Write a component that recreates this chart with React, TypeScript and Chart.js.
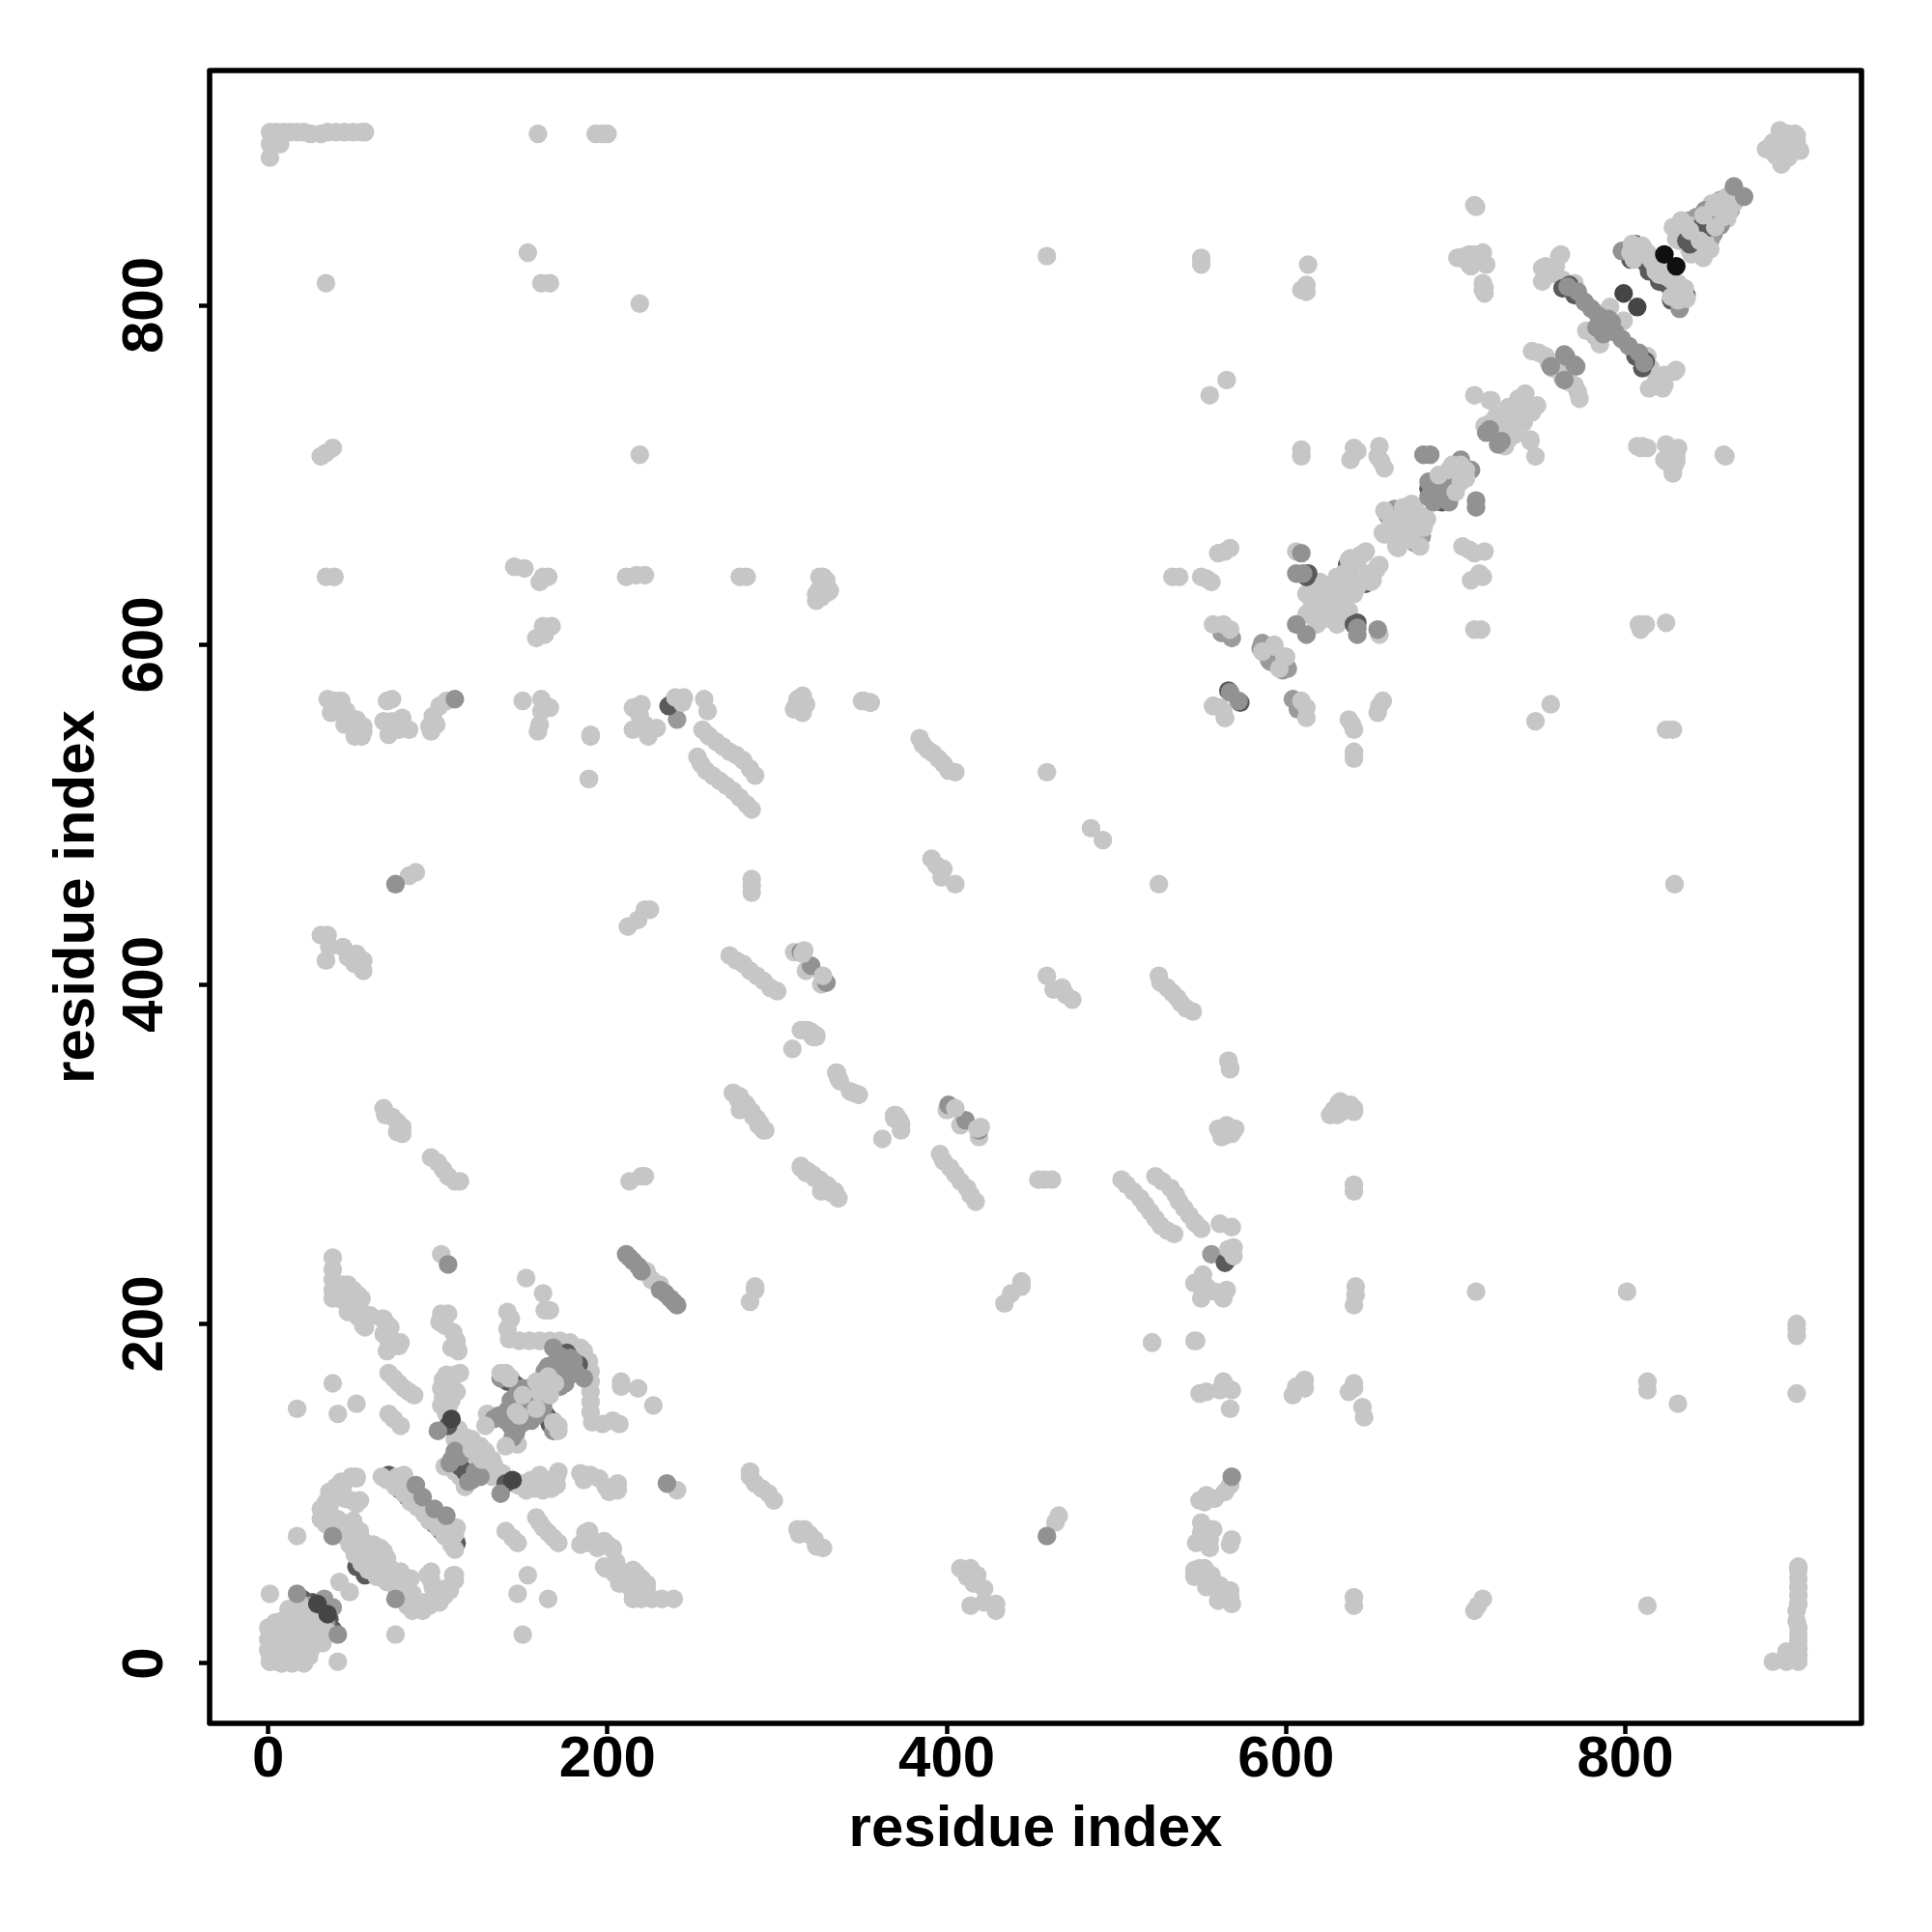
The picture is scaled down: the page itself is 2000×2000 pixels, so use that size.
import React, { useEffect, useRef } from "react";
import { Chart, registerables } from "chart.js";

Chart.register(...registerables);

type Pair = [number, number];

const tickValues = [0, 200, 400, 600, 800];
const axisTitle = "residue index";

const nearBlackContacts: Pair[] = [[823, 830]];

const veryDarkContacts: Pair[] = [[799, 807], [29, 35], [108, 144]];

const lightTopContacts: Pair[] = [
  [690, 700], [698, 706], [703, 706], [696, 703], [700, 705], [813, 831], [815, 827], [817, 824],
  [818, 820], [821, 827], [803, 831], [810, 835], [804, 836], [805, 827], [142, 168], [137, 171],
  [158, 166], [165, 169], [150, 158], [146, 148], [160, 160], [50, 68], [53, 63], [55, 59], [48, 70],
  [51, 64], [56, 62], [315, 418], [327, 405], [316, 420], [593, 600], [586, 596], [557, 612],
  [563, 612], [567, 609], [244, 566], [245, 569], [240, 569], [836, 804], [838, 844], [846, 853],
  [852, 858], [128, 140], [120, 132], [126, 120],
];

const mediumTopContacts: Pair[] = [
  [110, 568], [75, 459], [17, 41], [211, 241], [213, 239], [215, 237], [218, 234], [220, 231],
  [106, 235], [567, 572], [320, 411], [329, 401], [314, 419], [609, 654], [606, 612], [610, 642],
  [606, 642], [681, 712], [685, 712], [703, 709], [684, 696], [688, 696], [684, 687], [694, 700],
  [690, 694], [686, 692], [756, 764], [765, 770], [764, 771], [847, 856], [864, 870],
  [766, 811], [772, 808], [776, 802], [780, 798], [784, 794], [788, 791], [783, 787], [790, 792],
  [798, 832], [804, 834], [808, 834], [137, 168], [150, 162], [153, 162], [156, 158], [141, 149],
  [144, 152], [149, 149], [144, 148], [143, 155], [146, 153], [152, 156], [155, 160], [146, 158],
  [163, 172], [165, 175], [168, 172], [170, 178], [168, 186], [172, 181], [171, 176], [178, 180],
  [133, 144], [136, 146], [140, 143], [100, 137], [107, 118], [120, 108], [110, 125],
  [113, 122], [38, 75], [87, 105], [91, 98], [718, 725], [720, 727],
];

const darkMidContacts: Pair[] = [
  [806, 836], [810, 833], [812, 825], [808, 829], [814, 820], [803, 827], [141, 166], [146, 164],
  [176, 183], [175, 180], [836, 838], [841, 841], [846, 850], [763, 810], [767, 812], [770, 806],
  [613, 642], [612, 640], [106, 140], [116, 113], [236, 564],
];

const darkUnderContacts: Pair[] = [
  [566, 573], [636, 647], [622, 632], [684, 692], [690, 698], [148, 158],
  [71, 111], [75, 106], [78, 102], [82, 98], [85, 100], [88, 96],
  [50, 70], [52, 66], [53, 60], [52, 57], [57, 62], [48, 72], [20, 38], [26, 36],
];

const mediumUnderContacts: Pair[] = [
  [241, 556], [633, 640], [618, 628], [665, 675], [662, 670], [835, 845], [848, 852], [856, 862],
  [30, 32], [33, 38], [24, 34], [12, 22], [562, 607], [568, 604], [587, 600], [585, 598],
  [586, 601], [590, 591], [660, 676], [664, 680], [838, 850], [842, 852], [830, 845], [836, 842],
];

const lightContacts: Pair[] = [
  [1, 902], [1, 895], [1, 887], [7, 895], [5, 902], [9, 902], [13, 902], [17, 902], [21, 902],
  [25, 901], [31, 901], [35, 902], [40, 902], [45, 902], [50, 902], [55, 902], [57, 902],
  [159, 901], [193, 901], [197, 901], [200, 901], [153, 831], [161, 813], [166, 813], [34, 813],
  [219, 801], [38, 716], [31, 711], [34, 713], [219, 712], [34, 640], [39, 640], [145, 646],
  [151, 645], [162, 640], [160, 637], [165, 640], [211, 640], [217, 641], [222, 641], [278, 640],
  [282, 640], [167, 611], [162, 611], [158, 604], [163, 606],
  [35, 568], [39, 567], [43, 567], [37, 560], [46, 561], [45, 553], [52, 556], [56, 552], [55, 546],
  [51, 546], [56, 549], [73, 568], [70, 567], [68, 555], [73, 555], [79, 557], [71, 547], [83, 550],
  [77, 550], [105, 567], [101, 564], [97, 558], [95, 552], [96, 549], [99, 553], [150, 567],
  [161, 568], [166, 563], [161, 561], [160, 553], [159, 549], [164, 564], [190, 546], [189, 521],
  [215, 563], [220, 565], [215, 550], [224, 546], [219, 558], [229, 551], [222, 553], [238, 566],
  [257, 568], [259, 561], [256, 550], [259, 547], [260, 546],
  [264, 543], [268, 540], [272, 537], [276, 535], [280, 532], [284, 527], [287, 523], [253, 534],
  [255, 530], [258, 526], [262, 523], [266, 520], [270, 517], [274, 514], [278, 510], [282, 506],
  [285, 503], [83, 464], [87, 466], [222, 444], [218, 438], [212, 434], [225, 444], [285, 462],
  [285, 458], [285, 454], [31, 429], [35, 429], [34, 414], [36, 422], [44, 422], [52, 418], [56, 414],
  [56, 408], [51, 412], [47, 416], [272, 417], [276, 414], [280, 412], [284, 408], [288, 405],
  [292, 402], [296, 398], [300, 396], [311, 564], [315, 570], [315, 560], [310, 562], [317, 565],
  [312, 568], [351, 567], [355, 566], [384, 545], [386, 541], [389, 538], [392, 536], [395, 533],
  [398, 530], [401, 526], [405, 525], [459, 525], [485, 492], [391, 474], [394, 470], [398, 468],
  [397, 463], [405, 459], [310, 419], [317, 408], [326, 400], [317, 373],
  [321, 369], [314, 373], [323, 369], [309, 362], [335, 348], [337, 343], [345, 336], [348, 335],
  [323, 370], [318, 373], [320, 372], [355, 566], [350, 567],
  [557, 564], [564, 557], [561, 563], [274, 336], [278, 334], [282, 329], [278, 326], [285, 325],
  [288, 321], [289, 317], [293, 314], [314, 292], [318, 290], [322, 286], [326, 283], [330, 281],
  [332, 277], [336, 274], [629, 325], [632, 331], [636, 328], [640, 325], [68, 327], [69, 323],
  [73, 322], [76, 319], [76, 313], [79, 316], [79, 312], [96, 298], [100, 295], [103, 291], [106, 287],
  [110, 284], [113, 284], [213, 284], [220, 287], [222, 287], [223, 231], [226, 226], [102, 241],
  [521, 189], [547, 190],
  [1, 41], [1, 1], [1, 5], [1, 9], [1, 13], [1, 17], [1, 21], [0, 8], [0, 14], [0, 21], [4, 4], [5, 20],
  [4, 12], [4, 24], [8, 8], [8, 16], [8, 25], [12, 14], [12, 24], [16, 20], [15, 30], [20, 30], [22, 24],
  [12, 32], [18, 36], [24, 32], [27, 30], [20, 22], [15, 25],
  [67, 110], [80, 111], [70, 108], [75, 104], [80, 100], [84, 95], [88, 92], [76, 110], [82, 106],
  [86, 100], [92, 92], [31, 91], [34, 95], [36, 101], [40, 104], [43, 107], [49, 110], [52, 110],
  [45, 97], [49, 96], [52, 94], [31, 85], [34, 82], [37, 80], [41, 85], [45, 80], [50, 84], [45, 75],
  [50, 74], [54, 78], [56, 72], [62, 70], [58, 66], [62, 65], [66, 68], [38, 84], [36, 92], [38, 101],
  [44, 104], [52, 109], [54, 96], [17, 75], [42, 48], [17, 150], [52, 153], [41, 147], [38, 165],
  [71, 171], [74, 168], [77, 165], [80, 162], [83, 160], [86, 158], [71, 147], [74, 144], [78, 140],
  [77, 187], [70, 184], [74, 190], [70, 200], [67, 203], [57, 198], [60, 205], [53, 204], [50, 215],
  [53, 217], [47, 210], [44, 223], [42, 215], [38, 215], [38, 226], [38, 232], [38, 239], [44, 214],
  [47, 223], [38, 220], [42, 222], [45, 217], [50, 220], [48, 213], [52, 212], [55, 215], [55, 207],
  [57, 202], [47, 207], [56, 199], [68, 203], [72, 198], [68, 194], [71, 189], [75, 187], [78, 189],
  [102, 206], [106, 206], [101, 201], [104, 199], [109, 195], [111, 190], [108, 186], [112, 184],
  [111, 187], [113, 171], [152, 227], [162, 218], [163, 208], [166, 208], [141, 207], [143, 203],
  [141, 197], [142, 191], [148, 190], [154, 190], [160, 190], [166, 190], [172, 190], [178, 189],
  [184, 186], [112, 138], [110, 132], [114, 128], [117, 133], [118, 127], [122, 125], [120, 120],
  [104, 116], [110, 115], [113, 110], [124, 112], [128, 125], [103, 167], [108, 167], [102, 162],
  [107, 162], [111, 160], [103, 157], [108, 155], [102, 152], [106, 150], [129, 147], [143, 168],
  [162, 168], [150, 155], [140, 171], [106, 165], [110, 170], [147, 105], [152, 105], [158, 105],
  [164, 105], [170, 105], [593, 599],
  [612, 618], [615, 627], [618, 625], [620, 635], [614, 620], [623, 626], [628, 635], [612, 630],
  [623, 635], [631, 637], [620, 637], [634, 642], [637, 650], [639, 640], [644, 653], [647, 655],
  [642, 649], [646, 654], [638, 651], [625, 630], [630, 640], [628, 626], [606, 655],
  [533, 640], [537, 640], [550, 640], [553, 639], [556, 637], [560, 654], [564, 655], [567, 657],
  [609, 715], [609, 711], [638, 709], [642, 714], [640, 716], [655, 717], [654, 711], [656, 708],
  [658, 704], [658, 679], [658, 665], [657, 666], [669, 681], [674, 683], [669, 671], [660, 667],
  [665, 670], [672, 676], [662, 674], [676, 680], [722, 730], [721, 731], [724, 735], [728, 730],
  [732, 740], [735, 736], [740, 743],
  [741, 748], [740, 745], [737, 745], [731, 740], [711, 747], [721, 744], [720, 744], [717, 729],
  [745, 773], [749, 772], [753, 770], [755, 766], [760, 762], [757, 763], [751, 822], [762, 830],
  [751, 814], [755, 818], [759, 823], [764, 813], [770, 813], [782, 782], [777, 785], [791, 799],
  [785, 795], [763, 815], [753, 823], [761, 829], [828, 846], [833, 850], [830, 839],
  [832, 838], [838, 847], [832, 847], [843, 846], [855, 861], [851, 860], [860, 864],
  [885, 893], [888, 889], [892, 901], [896, 901], [900, 901], [883, 892], [893, 898],
  [896, 896], [891, 903], [895, 893], [887, 896], [712, 858], [702, 828], [706, 829], [711, 830],
  [715, 830], [718, 824], [717, 810], [717, 807], [708, 826], [613, 824], [612, 812], [609, 809],
  [612, 808], [459, 829], [550, 828], [550, 824], [565, 756], [555, 747], [327, 640], [325, 633],
  [330, 631], [323, 630], [323, 626], [326, 628], [329, 638], [716, 809], [716, 813], [710, 826],
  [715, 826], [716, 831], [701, 828], [708, 830], [711, 859], [709, 823], [708, 824],
];

const shades = {
  nearBlack: "#101010",
  veryDark: "#454545",
  medium: "#929292",
  dark: "#5a5a5a",
  underMedium: "#9a9a9a",
  light: "#c6c6c6",
};

const mirrored = (list: Pair[]) =>
  [...list, ...list.map(([i, j]) => [j, i] as Pair)].map(([x, y]) => ({ x, y }));

const series = (color: string, list: Pair[]) => ({
  data: mirrored(list),
  showLine: false,
  pointRadius: 9.7,
  pointHoverRadius: 9.7,
  pointBorderWidth: 0,
  pointBackgroundColor: color,
  clip: false as const,
});

const fixedTicks = (scale: any) => {
  scale.ticks = tickValues.map((value) => ({ value }));
};

const boxPlugin = {
  id: "plotBox",
  afterDraw(chart: any) {
    const { ctx, chartArea: a } = chart;
    ctx.save();
    ctx.strokeStyle = "#000";
    ctx.lineWidth = 5.6;
    ctx.lineJoin = "round";
    ctx.strokeRect(a.left, a.top, a.right - a.left, a.bottom - a.top);
    ctx.restore();
  },
};

const font = { family: "'Liberation Sans'", weight: "bold" as const, size: 60 };

export default function App() {
  const ref = useRef<HTMLCanvasElement>(null);
  useEffect(() => {
    const chart = new Chart(ref.current!, {
      type: "scatter",
      data: {
        datasets: [
          series(shades.nearBlack, nearBlackContacts),
          series(shades.veryDark, veryDarkContacts),
          series(shades.light, lightTopContacts),
          series(shades.medium, mediumTopContacts),
          series(shades.dark, darkMidContacts),
          series(shades.light, lightContacts),
          series(shades.underMedium, mediumUnderContacts),
          series(shades.dark, darkUnderContacts),
        ],
      },
      plugins: [boxPlugin],
      options: {
        responsive: false,
        animation: false,
        layout: { padding: { top: 73, right: 73, left: 0, bottom: 0 } },
        plugins: { legend: { display: false }, tooltip: { enabled: false } },
        scales: {
          x: {
            type: "linear",
            min: -34.57,
            max: 939.2,
            afterBuildTicks: fixedTicks,
            afterFit: (s: any) => {
              s.height = 216;
            },
            border: { display: false },
            grid: {
              drawOnChartArea: false,
              drawTicks: true,
              tickLength: 11,
              tickWidth: 4.5,
              tickColor: "#000",
            },
            ticks: { autoSkip: false, maxRotation: 0, color: "#000", font, padding: -9 },
            title: {
              display: true,
              text: axisTitle,
              color: "#000",
              font: { ...font, size: 60 },
              padding: { top: 0, bottom: 70 },
            },
          },
          y: {
            type: "linear",
            min: -35.3,
            max: 938.3,
            afterBuildTicks: fixedTicks,
            afterFit: (s: any) => {
              s.width = 217;
            },
            border: { display: false },
            grid: {
              drawOnChartArea: false,
              drawTicks: true,
              tickLength: 11,
              tickWidth: 4.5,
              tickColor: "#000",
            },
            ticks: {
              autoSkip: false,
              minRotation: 90,
              maxRotation: 90,
              crossAlign: "center",
              color: "#000",
              font,
              padding: 4,
            },
            title: {
              display: true,
              text: axisTitle,
              color: "#000",
              font: { ...font, size: 60 },
              padding: { top: 44, bottom: 0 },
            },
          },
        },
      },
    } as any);
    return () => chart.destroy();
  }, []);
  return (
    <canvas
      ref={ref}
      width={2000}
      height={2000}
      style={{ position: "absolute", left: 0, top: 0, width: 2000, height: 2000, display: "block" }}
    />
  );
}
